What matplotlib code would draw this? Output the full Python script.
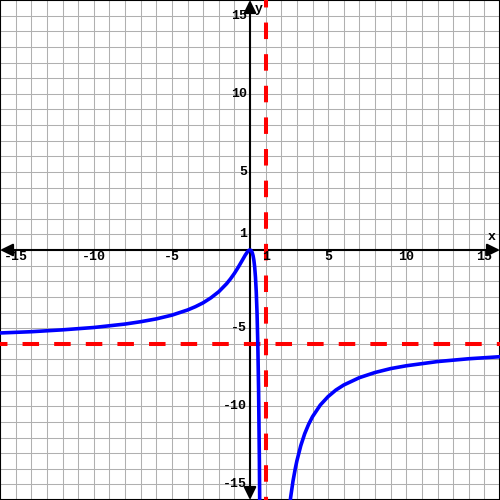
import matplotlib
matplotlib.use("Agg")
import matplotlib.pyplot as plt

# values
left_x = [-16, -14, -12, -10, -8, -7, -6, -5, -4, -3.5, -3, -2.5, -2, -1.5,
          -1.25, -1, -0.75, -0.5, -0.3, -0.15, -0.05, 0, 0.05, 0.1, 0.15, 0.2,
          0.25, 0.3, 0.35, 0.4, 0.45, 0.5, 0.55, 0.6, 0.63]
left_y = [-5.31, -5.23, -5.11, -4.96, -4.74, -4.59, -4.41, -4.17, -3.84, -3.63,
          -3.38, -3.06, -2.67, -2.16, -1.85, -1.5, -1.10, -0.67, -0.32, -0.10,
          -0.01, 0, -0.02, -0.07, -0.19, -0.38, -0.67, -1.10, -1.74, -2.67,
          -4.02, -6.0, -8.96, -13.5, -17.4]
right_x = [2.5, 2.6, 2.75, 2.9, 3, 3.25, 3.5, 3.75, 4, 4.5, 5, 5.5, 6, 7, 8, 9,
           10, 12, 14, 16]
right_y = [-16.7, -15.84, -14.8, -13.98, -13.5, -12.52, -11.76, -11.16, -10.67,
           -9.92, -9.38, -8.96, -8.64, -8.17, -7.84, -7.59, -7.41, -7.14, -6.96,
           -6.83]

v_asym = 1
h_asym = -6

xtick_vals = [-15, -10, -5, 1, 5, 10, 15]
ytick_vals = [15, 10, 5, 1, -5, -10, -15]

fig = plt.figure(figsize=(5, 5), dpi=100)
ax = fig.add_axes([0, 0, 1, 1])
ax.set_xlim(-16, 16)
ax.set_ylim(-16, 16)

ax.set_xticks(range(-16, 17))
ax.set_yticks(range(-16, 17))
ax.grid(True, color='#b0b0b0', linewidth=0.75, zorder=0)
ax.tick_params(length=0, labelbottom=False, labelleft=False)
ax.set_axisbelow(True)
for s in ax.spines.values():
    s.set_linewidth(1.5)
    s.set_color('black')

# axes with arrows
arrow = dict(arrowstyle='<|-|>,head_length=0.55,head_width=0.27', color='black',
             lw=1.5, mutation_scale=14, shrinkA=0, shrinkB=0)
ax.annotate('', xy=(16, 0), xytext=(-16, 0), arrowprops=arrow, zorder=2)
ax.annotate('', xy=(0, 16), xytext=(0, -16), arrowprops=arrow, zorder=2)

font = dict(family='Liberation Mono', fontweight='bold', fontsize=9.5)
for v in xtick_vals:
    ax.annotate(str(v), xy=(v, 0), xytext=(0, -1), textcoords='offset pixels',
                ha='center', va='top', zorder=6, **font)
for v in ytick_vals:
    ax.annotate(str(v), xy=(0, v), xytext=(-3, 0), textcoords='offset pixels',
                ha='right', va='center', zorder=6, **font)
ax.text(15.45, 0.8, 'x', ha='center', va='center', zorder=6, **font)
ax.text(0.55, 15.4, 'y', ha='center', va='center', zorder=6, **font)

# asymptotes
dash = (2.25, (4.1, 3.75))
ax.plot([-16, 16], [h_asym, h_asym], color='red', lw=2.9, linestyle=dash, zorder=4)
ax.plot([v_asym, v_asym], [16, -16], color='red', lw=2.9, linestyle=dash, zorder=4)

# curve
ax.plot(left_x, left_y, color='blue', lw=2.6, zorder=5, solid_joinstyle='round')
ax.plot(right_x, right_y, color='blue', lw=2.6, zorder=5, solid_joinstyle='round')

fig.savefig('out.png', dpi=100)
